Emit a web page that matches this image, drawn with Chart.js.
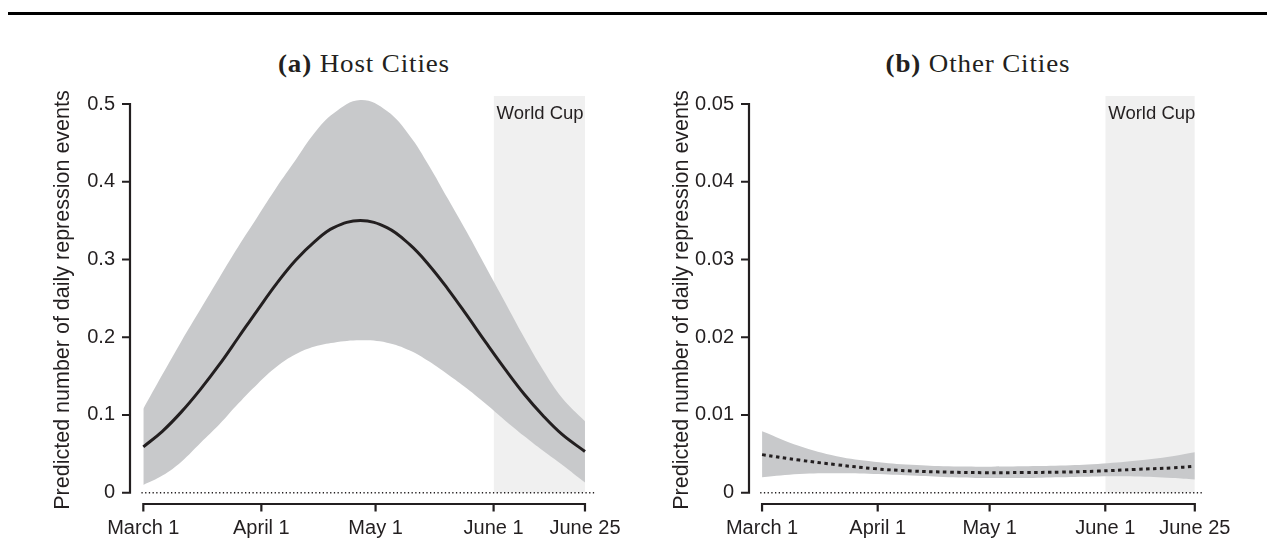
<!DOCTYPE html>
<html>
<head>
<meta charset="utf-8">
<title>Predicted daily repression events</title>
<script src="https://cdn.jsdelivr.net/npm/chart.js@4.4.1/dist/chart.umd.min.js"></script>
<style>
    body { margin: 0; background: #fff; }
    #figure { position: relative; width: 1267px; height: 550px; overflow: hidden; background: #fff; }
    .rule { position: absolute; left: 8px; right: 0; top: 12px; height: 3px; background: #000; }
    .panel-title {
        position: absolute;
        top: 51px;
        font-family: "Liberation Serif", "Times New Roman", serif;
        font-size: 25px;
        line-height: 25px;
        letter-spacing: 0.8px;
        color: #231f20;
        white-space: nowrap;
        transform: translateX(-50%) scaleX(1.08);
    }
    canvas { position: absolute; top: 0; }
</style>
</head>
<body>
<div id="figure">
    <div class="rule"></div>
    <div class="panel-title" style="left:364px"><b>(a)</b> Host Cities</div>
    <div class="panel-title" style="left:978px"><b>(b)</b> Other Cities</div>
    <canvas id="hostChart" width="640" height="550" style="left:0"></canvas>
    <canvas id="otherChart" width="648" height="550" style="left:619px"></canvas>
</div>
<script>
// Days counted from March 1 (March 1 = 0, June 25 = 116)
const hostDays  = [0, 5, 10, 15, 20, 25, 30, 35, 40, 45, 50, 57, 64, 70, 75, 80, 85, 90, 95, 100, 105, 110, 116];
const hostMean  = [0.059, 0.079, 0.104, 0.133, 0.165, 0.200, 0.235, 0.269, 0.299, 0.323, 0.341, 0.350, 0.341, 0.319, 0.293, 0.262, 0.228, 0.193, 0.159, 0.127, 0.099, 0.075, 0.053];
const hostUpper = [0.108, 0.152, 0.195, 0.236, 0.277, 0.317, 0.355, 0.393, 0.428, 0.463, 0.488, 0.505, 0.491, 0.459, 0.421, 0.378, 0.335, 0.290, 0.245, 0.200, 0.158, 0.122, 0.092];
const hostLower = [0.010, 0.022, 0.040, 0.064, 0.088, 0.115, 0.140, 0.162, 0.178, 0.188, 0.193, 0.196, 0.193, 0.183, 0.169, 0.152, 0.134, 0.114, 0.093, 0.073, 0.054, 0.036, 0.013];

const otherDays  = [0, 10, 20, 30, 40, 50, 60, 70, 80, 90, 100, 110, 116];
const otherMean  = [0.0049, 0.0042, 0.0036, 0.0031, 0.0028, 0.00265, 0.00258, 0.0026, 0.00265, 0.00278, 0.0030, 0.0032, 0.0034];
const otherUpper = [0.0079, 0.0060, 0.0047, 0.0040, 0.0036, 0.0034, 0.00335, 0.0034, 0.0035, 0.0037, 0.0041, 0.0047, 0.0052];
const otherLower = [0.0020, 0.0024, 0.0025, 0.0024, 0.0022, 0.0020, 0.0019, 0.0019, 0.0020, 0.0021, 0.0021, 0.0019, 0.0017];

// Axis ticks
const xTickDays   = [0, 31, 61, 92, 116];
const xTickLabels = ['March 1', 'April 1', 'May 1', 'June 1', 'June 25'];
const hostYTicks   = [0, 0.1, 0.2, 0.3, 0.4, 0.5];
const hostYLabels  = ['0', '0.1', '0.2', '0.3', '0.4', '0.5'];
const otherYTicks  = [0, 0.01, 0.02, 0.03, 0.04, 0.05];
const otherYLabels = ['0', '0.01', '0.02', '0.03', '0.04', '0.05'];

// World Cup window (June 1 - June 25)
const worldCupStart = 92;
const worldCupEnd = 116;
const worldCupLabel = 'World Cup';

const INK = '#231f20';
const BAND = '#c8c9cb';
const SHADE = '#f0f0f0';
const SANS = '"Liberation Sans", Arial, Helvetica, sans-serif';

function points(days, values) {
    return days.map((d, i) => ({ x: d, y: values[i] }));
}

// Draws the R-style detached axes and the World Cup label
const framePlugin = {
    id: 'frame',
    afterDatasetsDraw(chart, args, opts) {
        const ctx = chart.ctx;
        const x = chart.scales.x;
        ctx.save();
        ctx.fillStyle = INK;
        ctx.font = '18.5px ' + SANS;
        ctx.textBaseline = 'alphabetic';
        ctx.fillText(worldCupLabel, x.getPixelForValue(worldCupStart) + 3, chart.chartArea.top + 23);
        ctx.restore();
    },
    afterDraw(chart, args, opts) {
        const ctx = chart.ctx;
        const x = chart.scales.x;
        const y = chart.scales.y;
        const left = chart.chartArea.left;
        const bottom = chart.chartArea.bottom;
        const yt = opts.yTicks;

        ctx.save();
        ctx.strokeStyle = INK;
        ctx.lineWidth = 2.2;
        ctx.lineJoin = 'miter';

        // y axis
        const yFirst = y.getPixelForValue(yt[0]);
        const yLast = y.getPixelForValue(yt[yt.length - 1]);
        ctx.beginPath();
        ctx.moveTo(left - 8, yFirst);
        ctx.lineTo(left, yFirst);
        ctx.lineTo(left, yLast);
        ctx.lineTo(left - 8, yLast);
        yt.slice(1, -1).forEach(v => {
            const p = y.getPixelForValue(v);
            ctx.moveTo(left - 8, p);
            ctx.lineTo(left, p);
        });
        ctx.stroke();

        // x axis, offset below the plot
        const xFirst = x.getPixelForValue(xTickDays[0]);
        const xLast = x.getPixelForValue(xTickDays[xTickDays.length - 1]);
        ctx.beginPath();
        ctx.moveTo(xFirst, bottom + 7.5);
        ctx.lineTo(xFirst, bottom);
        ctx.lineTo(xLast, bottom);
        ctx.lineTo(xLast, bottom + 7.5);
        xTickDays.slice(1, -1).forEach(d => {
            const p = x.getPixelForValue(d);
            ctx.moveTo(p, bottom);
            ctx.lineTo(p, bottom + 7.5);
        });
        ctx.stroke();
        ctx.restore();
    }
};

function createPanel(canvasId, days, mean, upper, lower, yTicks, yLabels, yMin, yMax, meanDash, padRight, zeroEnd) {
    const canvas = document.getElementById(canvasId);

    new Chart(canvas, {
        type: 'line',
        data: {
            datasets: [
                {
                    label: 'Predicted',
                    data: points(days, mean),
                    borderColor: INK,
                    borderWidth: 3,
                    borderDash: meanDash,
                    pointRadius: 0,
                    fill: false,
                    tension: 0.4
                },
                {
                    label: 'zero',
                    data: [{ x: -0.5, y: 0 }, { x: zeroEnd, y: 0 }],
                    borderColor: INK,
                    borderWidth: 1.4,
                    borderDash: [1.3, 2.4],
                    pointRadius: 0,
                    fill: false
                },
                {
                    label: 'upper',
                    data: points(days, upper),
                    borderColor: 'rgba(0,0,0,0)',
                    backgroundColor: BAND,
                    pointRadius: 0,
                    fill: '+1',
                    tension: 0.4
                },
                {
                    label: 'lower',
                    data: points(days, lower),
                    borderColor: 'rgba(0,0,0,0)',
                    pointRadius: 0,
                    fill: false,
                    tension: 0.4
                },
                {
                    label: 'World Cup',
                    data: [{ x: worldCupStart, y: yMax }, { x: worldCupEnd, y: yMax }],
                    borderColor: 'rgba(0,0,0,0)',
                    backgroundColor: SHADE,
                    pointRadius: 0,
                    fill: 'origin'
                }
            ]
        },
        options: {
            responsive: false,
            animation: false,
            events: [],
            layout: { padding: { top: 96, left: 0, right: padRight, bottom: 0 } },
            plugins: {
                legend: { display: false },
                tooltip: { enabled: false },
                frame: { yTicks: yTicks }
            },
            scales: {
                x: {
                    type: 'linear',
                    min: -3.5,
                    max: 119,
                    grid: { display: false, drawTicks: false },
                    border: { display: false },
                    afterBuildTicks: scale => { scale.ticks = xTickDays.map(v => ({ value: v })); },
                    afterFit: scale => { scale.height = 46; },
                    ticks: {
                        color: INK,
                        padding: 12,
                        maxRotation: 0,
                        autoSkip: false,
                        font: { family: SANS, size: 20 },
                        callback: value => xTickLabels[xTickDays.indexOf(value)]
                    }
                },
                y: {
                    type: 'linear',
                    min: yMin,
                    max: yMax,
                    grid: { display: false, drawTicks: false },
                    border: { display: false },
                    afterBuildTicks: scale => { scale.ticks = yTicks.map(v => ({ value: v })); },
                    afterFit: scale => { scale.width = 130; },
                    ticks: {
                        color: INK,
                        padding: 15,
                        font: { family: SANS, size: 20 },
                        callback: value => yLabels[yTicks.indexOf(value)]
                    },
                    title: {
                        display: true,
                        text: 'Predicted number of daily repression events',
                        color: INK,
                        font: { family: SANS, size: 21.5 },
                        padding: { top: 50, bottom: 0 }
                    }
                }
            }
        },
        plugins: [framePlugin]
    });
}

createPanel('hostChart', hostDays, hostMean, hostUpper, hostLower,
    hostYTicks, hostYLabels, -0.0145, 0.5103, [], 43.6, 119);
createPanel('otherChart', otherDays, otherMean, otherUpper, otherLower,
    otherYTicks, otherYLabels, -0.00145, 0.05103, [3.5, 3.5], 61, 118.3);
</script>
</body>
</html>
